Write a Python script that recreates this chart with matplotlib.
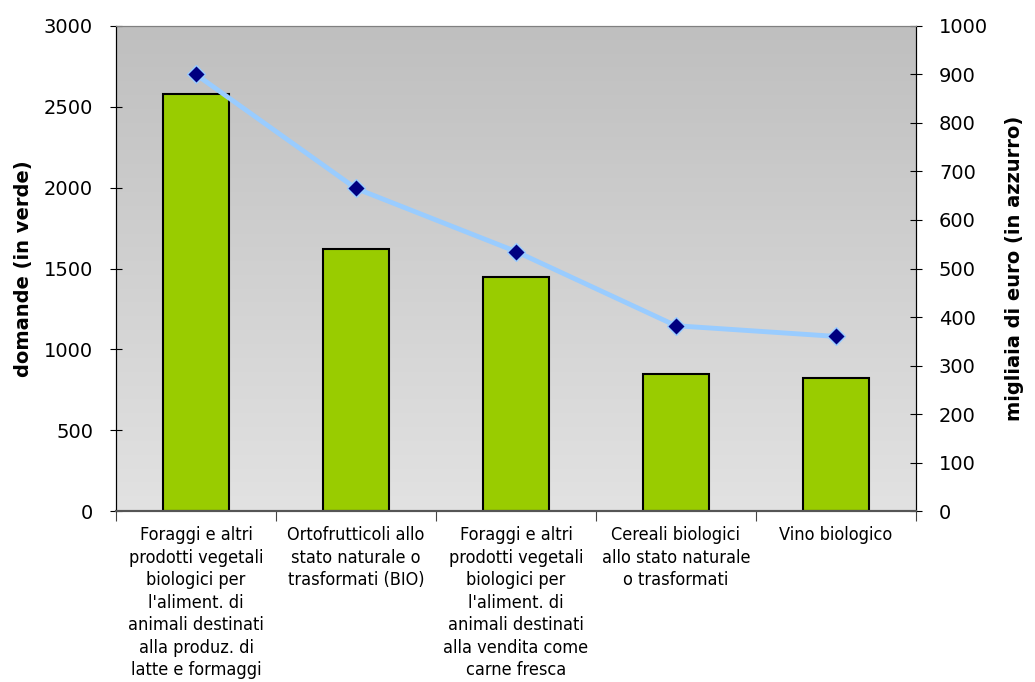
import numpy as np
import matplotlib
matplotlib.use("Agg")
import matplotlib.pyplot as plt

categories = [
    "Foraggi e altri\nprodotti vegetali\nbiologici per\nl'aliment. di\nanimali destinati\nalla produz. di\nlatte e formaggi",
    "Ortofrutticoli allo\nstato naturale o\ntrasformati (BIO)",
    "Foraggi e altri\nprodotti vegetali\nbiologici per\nl'aliment. di\nanimali destinati\nalla vendita come\ncarne fresca",
    "Cereali biologici\nallo stato naturale\no trasformati",
    "Vino biologico",
]
domande = [2580, 1620, 1450, 850, 820]
migliaia_euro = [900, 665, 535, 382, 360]

fig = plt.figure(figsize=(10.35, 6.82), dpi=100)
ax = fig.add_axes([0.1121, 0.2507, 0.7729, 0.7112])
x = np.arange(len(categories))

# gradient background, darker at top
grad = np.linspace(0, 1, 256).reshape(-1, 1)
ax.imshow(grad, extent=[-0.5, len(categories) - 0.5, 0, 3000], aspect="auto",
          cmap=matplotlib.colors.LinearSegmentedColormap.from_list("bg", ["#e2e2e2", "#bfbfbf"]),
          origin="lower", zorder=0)

ax.bar(x, domande, width=0.41, color="#99cc00", edgecolor="black", linewidth=1.5, zorder=2)
ax.set_xlim(-0.5, len(categories) - 0.5)
ax.set_ylim(0, 3000)
ax.set_yticks(range(0, 3001, 500))
ax.set_xticks(np.arange(-0.5, len(categories), 1.0))
ax.set_xticklabels([])
ax.set_xticks(x, minor=True)
ax.set_xticklabels(categories, minor=True, fontsize=13, fontstretch="condensed",
                   linespacing=1.32)
ax.tick_params(axis="x", which="minor", length=0, pad=11)
ax.tick_params(axis="x", which="major", length=7, direction="out", color="#444444")
ax.tick_params(axis="y", labelsize=14, direction="inout", length=9, pad=12)
ax.set_ylabel("domande (in verde)", fontsize=14, fontweight="bold", labelpad=8)

ax2 = ax.twinx()
ax2.plot(x, migliaia_euro, color="#99ccff", linewidth=3.5, zorder=3)
ax2.plot(x, migliaia_euro, linestyle="none", marker="D", markersize=9,
         markerfacecolor="#000080", markeredgecolor="#99ccff", markeredgewidth=1, zorder=4)
ax2.set_ylim(0, 1000)
ax2.set_yticks(range(0, 1001, 100))
ax2.tick_params(axis="y", labelsize=14, direction="inout", length=9, pad=12)
ax2.set_ylabel("migliaia di euro (in azzurro)", fontsize=14, fontweight="bold", labelpad=12)

for a in (ax, ax2):
    a.spines["top"].set_color("#808080")
    a.spines["bottom"].set_color("#555555")
    a.spines["bottom"].set_linewidth(1.5)
    a.spines["left"].set_color("black")
    a.spines["right"].set_color("black")

fig.savefig("out.png", dpi=100)
